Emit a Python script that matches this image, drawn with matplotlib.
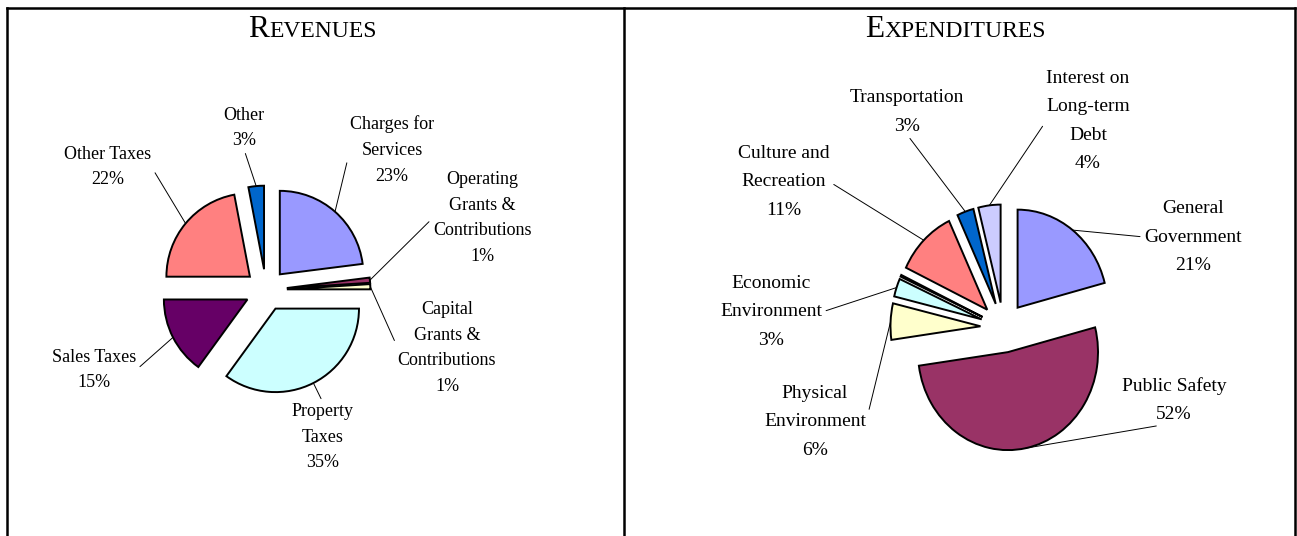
"""Revenues / expenditures pie charts (two panels)."""
import numpy as np
import matplotlib
matplotlib.use("Agg")
import matplotlib.pyplot as plt

W, H = 1297, 536
SERIF = "Liberation Serif"

# --- data -------------------------------------------------------------
rev_labels = ["Charges for\nServices", "Operating\nGrants &\nContributions",
              "Capital\nGrants &\nContributions", "Property\nTaxes",
              "Sales Taxes", "Other Taxes", "Other"]
rev_values = [23, 1, 1, 35, 15, 22, 3]

exp_labels = ["General\nGovernment", "Public Safety", "Physical\nEnvironment",
              "Economic\nEnvironment", None, "Culture and\nRecreation",
              "Transportation", "Interest on\nLong-term\nDebt"]
exp_values = [21, 52, 6, 3, 0.3, 11, 3, 4]

palette = ["#9999FF", "#993366", "#FFFFCC", "#CCFFFF",
           "#660066", "#FF8080", "#0066CC", "#CCCCFF"]

# label layout: centre (px from top-left) and where the leader leaves the text
rev_layout = [((392, 150), (0, 0.5)), ((482, 218), (0, 0.5)),
              ((447, 348), (0, 0.5)), ((323, 437), (0.5, 1)),
              ((94, 370), (1, 0.5)), ((108, 167), (1, 0.5)),
              ((244, 128), (0.5, 0))]
exp_layout = [((1193, 237), (0, 0.5)), ((1174, 400), (0.5, 0)),
              ((815, 422), (1, 0.5)), ((771, 312), (1, 0.5)), None,
              ((784, 182), (1, 0.5)), ((907, 112), (0.5, 0)),
              ((1088, 121), (0, 0.5))]

fig = plt.figure(figsize=(W / 100, H / 100), dpi=100)

# background axes in pixel units for the frame and titles
bg = fig.add_axes([0, 0, 1, 1])
bg.set_xlim(0, W)
bg.set_ylim(H, 0)
bg.axis("off")
for xs, ys in [([7, 1295], [8, 8]), ([7, 7], [8, H]),
               ([624, 624], [8, H]), ([1295, 1295], [8, H])]:
    bg.plot(xs, ys, color="black", lw=1.8, solid_capstyle="projecting")


def small_caps_title(x, first, rest):
    t1 = bg.text(x, 37, first, fontsize=22.5, family=SERIF, ha="left", va="baseline")
    bg.annotate(rest, xy=(1, 0), xycoords=t1, xytext=(0, 1.2),
                textcoords="offset points", fontsize=17, family=SERIF,
                ha="left", va="bottom")


small_caps_title(248, "R", "EVENUES")
small_caps_title(865, "E", "XPENDITURES")


def draw_pie(values, labels, layout, cx, cy, rx, ry, explode, fs, ls, L=1.6):
    ax = fig.add_axes([(cx - L * rx) / W, (H - cy - L * ry) / H,
                       2 * L * rx / W, 2 * L * ry / H])
    wedges, _ = ax.pie(values, colors=palette[:len(values)], startangle=90,
                       counterclock=False, explode=[explode] * len(values),
                       wedgeprops=dict(edgecolor="black", linewidth=1.4))
    ax.set_aspect("auto")
    ax.set_xlim(-L, L)
    ax.set_ylim(-L, L)
    ax.axis("off")
    for w, lab, v, lay in zip(wedges, labels, values, layout):
        if lab is None:
            continue
        mid = np.deg2rad((w.theta1 + w.theta2) / 2)
        pt = (w.center[0] + w.r * np.cos(mid), w.center[1] + w.r * np.sin(mid))
        (tx, ty), rel = lay
        ax.annotate(f"{lab}\n{v:.0f}%", xy=pt, xycoords="data",
                    xytext=(tx, ty), textcoords=bg.transData,
                    ha="center", va="center", multialignment="center",
                    fontsize=fs, family=SERIF, linespacing=ls,
                    arrowprops=dict(arrowstyle="-", color="black", lw=0.7,
                                    relpos=rel, shrinkA=1, shrinkB=0))
    return ax


draw_pie(rev_values, rev_labels, rev_layout, 266, 290, 83.5, 83.5, 0.25, 13, 1.68)
draw_pie(exp_values, exp_labels, exp_layout, 1003.5, 327.5, 90, 98, 0.256, 14, 1.85)

fig.savefig("out.png", dpi=100, facecolor="white")
print("Saved chart: out.png")
